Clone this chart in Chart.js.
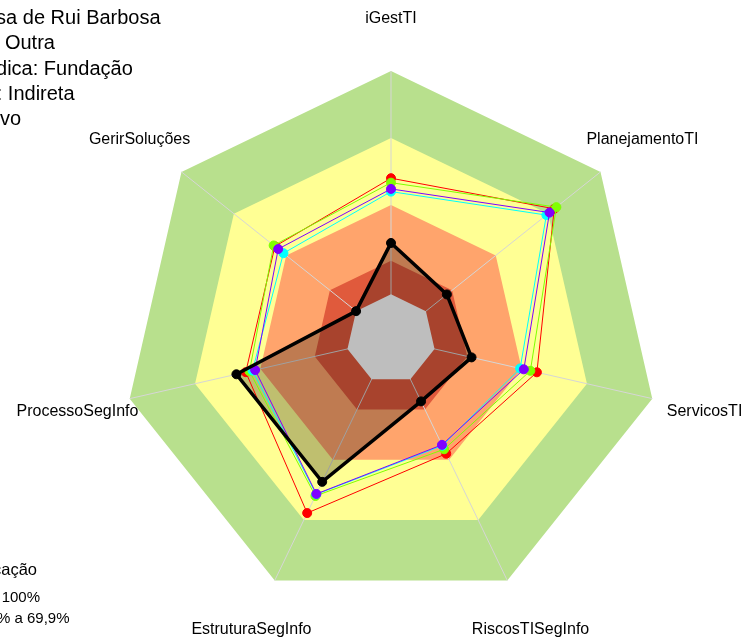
<!DOCTYPE html>
<html>
<head>
<meta charset="utf-8">
<script src="https://cdn.jsdelivr.net/npm/chart.js@4.4.1/dist/chart.umd.min.js"></script>
<style>
    html, body { margin: 0; padding: 0; background: #fff; overflow: hidden; }
    canvas { display: block; }
</style>
</head>
<body>
<canvas id="radar" width="744" height="641"></canvas>
<script>
// axes, clockwise from the top
const axisLabels = ['iGestTI', 'PlanejamentoTI', 'ServicosTI', 'RiscosTISegInfo', 'EstruturaSegInfo', 'ProcessoSegInfo', 'GerirSoluções'];

// the organisation (black) and the four reference groups
const orgValues    = [0.23, 0.12, 0.17, 0.11, 0.51, 0.51, 0.00];
const redValues    = [0.52, 0.735, 0.47, 0.37, 0.665, 0.467, 0.465];
const greenValues  = [0.50, 0.747, 0.44, 0.348, 0.58, 0.45, 0.472];
const cyanValues   = [0.46, 0.69, 0.393, 0.33, 0.572, 0.436, 0.416];
const purpleValues = [0.472, 0.708, 0.41, 0.326, 0.57, 0.424, 0.446];

// classification bands (outer edge of each one) and the scale range
const bandLimits = [1.0, 0.7, 0.4, 0.15];
const bandColors = ['#B8E08D', '#FFFF94', '#FFA46C', '#E05A3C'];
const centerLimit = 0;
const scaleMin = -0.2;
const scaleMax = 1.0;

const headerLines = ['Fundação Casa de Rui Barbosa', 'Classificação: Outra', 'Natureza Jurídica: Fundação', 'Administração: Indireta', 'Poder: Executivo'];
const legendTitle = 'Classificação';
const legendItems = ['Aprimorado: 70% a 100%', 'Intermediário: 40% a 69,9%'];

const FONT = '"Liberation Sans", Arial, sans-serif';

function constant(v) {
    return axisLabels.map(() => v);
}

function series(data, color) {
    return {
        data: data,
        borderColor: color,
        borderWidth: 1,
        backgroundColor: color,
        pointBackgroundColor: color,
        pointBorderColor: color,
        pointBorderWidth: 1,
        pointRadius: 4.5,
        fill: false,
        clip: false
    };
}

function band(v, color) {
    return {
        data: constant(v),
        borderColor: 'transparent',
        borderWidth: 0,
        backgroundColor: color,
        pointRadius: 0,
        fill: 'start',
        clip: false
    };
}

// first in the list is drawn on top
const datasets = [
    {
        data: orgValues,
        borderColor: '#000',
        borderWidth: 3.5,
        pointBackgroundColor: '#000',
        pointBorderColor: '#000',
        pointBorderWidth: 1,
        pointRadius: 4.5,
        fill: false,
        clip: false
    },
    series(purpleValues, '#8000FF'),
    series(cyanValues, '#00FFFF'),
    series(greenValues, '#80FF00'),
    series(redValues, '#FF0000'),
    band(centerLimit, '#BEBEBE'),
    {
        data: orgValues,
        borderColor: 'transparent',
        borderWidth: 0,
        backgroundColor: 'rgba(0,0,0,0.25)',
        pointRadius: 0,
        fill: 'start',
        clip: false
    }
];
// innermost coloured band is pushed first, so it sits right under the black fill
const innerBandIndex = datasets.length;
for (let i = bandLimits.length - 1; i >= 0; i--) {
    datasets.push(band(bandLimits[i], bandColors[i]));
}

const axisLinesPlugin = {
    id: 'axisLines',
    afterDatasetDraw(chart, args) {
        if (args.index !== innerBandIndex) return;
        const r = chart.scales.r;
        const ctx = chart.ctx;
        ctx.save();
        ctx.strokeStyle = '#D6D6D6';
        ctx.lineWidth = 1;
        axisLabels.forEach((_, i) => {
            const p = r.getPointPosition(i, r.getDistanceFromCenterForValue(scaleMax));
            ctx.beginPath();
            ctx.moveTo(r.xCenter, r.yCenter);
            ctx.lineTo(p.x, p.y);
            ctx.stroke();
        });
        ctx.restore();
    }
};

const textPlugin = {
    id: 'texts',
    afterDraw(chart) {
        const r = chart.scales.r;
        const ctx = chart.ctx;
        ctx.save();
        ctx.fillStyle = '#000';

        // axis names
        ctx.font = '16px ' + FONT;
        ctx.textAlign = 'center';
        ctx.textBaseline = 'middle';
        axisLabels.forEach((label, i) => {
            const p = r.getPointPosition(i, r.drawingArea * 1.2);
            ctx.fillText(label, p.x, p.y + 1);
        });

        // header, runs off the left edge
        ctx.font = '20px ' + FONT;
        ctx.textAlign = 'left';
        ctx.textBaseline = 'alphabetic';
        const headerX = [-124, -124, -124, -130, -130];
        headerLines.forEach((line, i) => {
            ctx.fillText(line, headerX[i], 24 + i * 25.3);
        });

        // classification legend, also cut at the left edge
        ctx.textAlign = 'right';
        ctx.font = '16.5px ' + FONT;
        ctx.fillText(legendTitle, 37, 575);
        ctx.font = '15px ' + FONT;
        const ends = [40, 69.5];
        legendItems.forEach((item, i) => {
            ctx.fillText(item, ends[i], 602 + i * 20.5);
        });
        ctx.restore();
    }
};

new Chart(document.getElementById('radar'), {
    type: 'radar',
    data: {
        labels: axisLabels,
        datasets: datasets
    },
    options: {
        responsive: false,
        animation: false,
        events: [],
        layout: {
            padding: { left: 123, top: 71, right: 85, bottom: 34 }
        },
        elements: {
            line: { tension: 0 }
        },
        plugins: {
            legend: { display: false },
            tooltip: { enabled: false }
        },
        scales: {
            r: {
                min: scaleMin,
                max: scaleMax,
                ticks: { display: false },
                grid: { display: false },
                angleLines: { display: false },
                pointLabels: { display: false }
            }
        }
    },
    plugins: [axisLinesPlugin, textPlugin]
});
</script>
</body>
</html>
